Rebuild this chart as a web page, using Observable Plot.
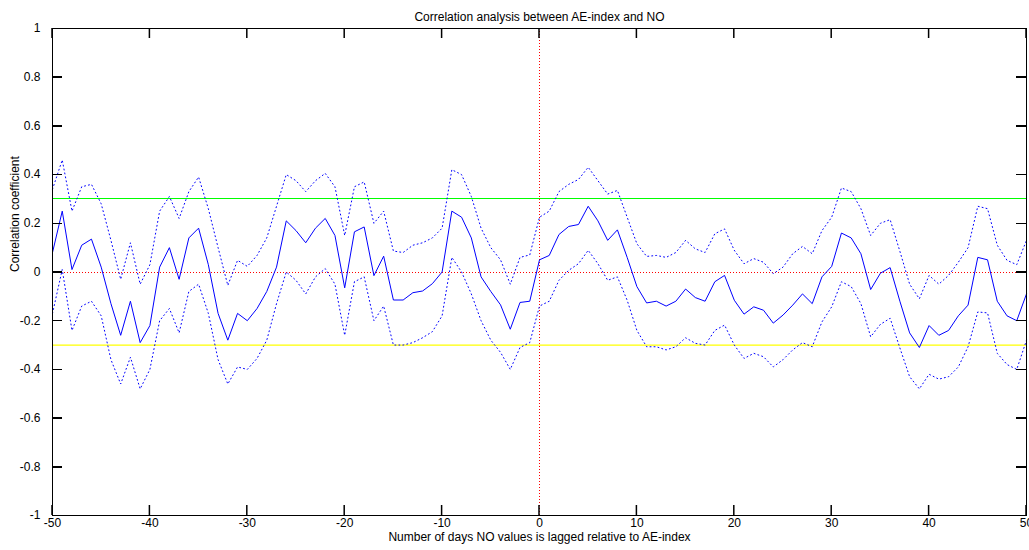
<!DOCTYPE html>
<html>
<head>
<meta charset="utf-8">
<script src="https://cdn.jsdelivr.net/npm/d3@7"></script>
<script src="https://cdn.jsdelivr.net/npm/@observablehq/plot@0.6"></script>
<style>
  html, body { margin: 0; padding: 0; background: #fff; }
</style>
</head>
<body>
<div id="chart"></div>
<script>
const title = "Correlation analysis between AE-index and NO";
const xLabel = "Number of days NO values is lagged relative to AE-index";
const yLabel = "Correlation coefficient";

const lags = d3.range(-50, 51);
const xTicks = [-50, -40, -30, -20, -10, 0, 10, 20, 30, 40, 50];
const yTicks = [-1, -0.8, -0.6, -0.4, -0.2, 0, 0.2, 0.4, 0.6, 0.8, 1];
const xDomain = [-50, 50];
const yDomain = [-1, 1];

const upperLimit = 0.3;
const lowerLimit = -0.3;

const corr = [
  0.08, 0.25, 0.01, 0.11, 0.135, 0.02, -0.13, -0.26, -0.12, -0.29,
  -0.22, 0.02, 0.10, -0.03, 0.14, 0.18, 0.03, -0.17, -0.28, -0.17,
  -0.20, -0.15, -0.08, 0.02, 0.21, 0.17, 0.12, 0.18, 0.22, 0.15,
  -0.065, 0.165, 0.185, -0.015, 0.065, -0.115, -0.115, -0.085, -0.078, -0.048,
  0.0, 0.25, 0.225, 0.14, -0.02, -0.08, -0.135, -0.235, -0.125, -0.12,
  0.05, 0.068, 0.154, 0.187, 0.195, 0.27, 0.21, 0.13, 0.173, 0.06,
  -0.06, -0.127, -0.12, -0.14, -0.12, -0.07, -0.105, -0.12, -0.04, -0.014,
  -0.116, -0.173, -0.143, -0.157, -0.21, -0.177, -0.136, -0.09, -0.13, -0.02,
  0.023, 0.16, 0.14, 0.075, -0.072, -0.005, 0.018, -0.12, -0.25, -0.31,
  -0.22, -0.26, -0.24, -0.18, -0.136, 0.06, 0.05, -0.12, -0.18, -0.2,
  -0.09
];

const upper = [
  0.34, 0.46, 0.25, 0.35, 0.36, 0.28, 0.13, -0.03, 0.12, -0.05,
  0.03, 0.25, 0.31, 0.22, 0.33, 0.39, 0.26, 0.10, -0.055, 0.048,
  0.023, 0.068, 0.14, 0.27, 0.40, 0.375, 0.33, 0.375, 0.405, 0.35,
  0.15, 0.35, 0.37, 0.20, 0.25, 0.086, 0.08, 0.11, 0.12, 0.14,
  0.18, 0.42, 0.40, 0.31, 0.18, 0.10, 0.05, -0.05, 0.06, 0.07,
  0.225, 0.25, 0.33, 0.36, 0.38, 0.43, 0.375, 0.32, 0.335, 0.225,
  0.116, 0.064, 0.068, 0.06, 0.08, 0.13, 0.095, 0.08, 0.157, 0.177,
  0.089, 0.034, 0.055, 0.04, -0.007, 0.02, 0.075, 0.105, 0.075, 0.17,
  0.225, 0.345, 0.33, 0.26, 0.15, 0.2, 0.215, 0.085, -0.05, -0.11,
  -0.014, -0.05, -0.014, 0.04, 0.10, 0.27, 0.26, 0.11, 0.048, 0.03,
  0.13
];

const lower = [
  -0.17, 0.01, -0.24, -0.14, -0.12, -0.18, -0.36, -0.46, -0.35, -0.48,
  -0.40, -0.20, -0.15, -0.25, -0.08, -0.05, -0.17, -0.36, -0.46, -0.39,
  -0.40, -0.355, -0.28, -0.13, 0.0, -0.034, -0.09, -0.02, 0.014, -0.05,
  -0.26, -0.04, -0.02, -0.20, -0.14, -0.30, -0.30, -0.29, -0.27, -0.245,
  -0.18, 0.06, 0.0, -0.09, -0.20, -0.28, -0.33, -0.40, -0.31, -0.29,
  -0.14, -0.12, -0.034, 0.007, 0.034, 0.089, 0.034, -0.034, -0.02, -0.116,
  -0.24, -0.307, -0.307, -0.32, -0.307, -0.27, -0.293, -0.30, -0.24, -0.218,
  -0.30, -0.355, -0.334, -0.348, -0.39, -0.36, -0.32, -0.29, -0.307, -0.205,
  -0.143, -0.04, -0.06, -0.13, -0.266, -0.215, -0.19, -0.312, -0.43, -0.48,
  -0.42, -0.44, -0.43, -0.39, -0.307, -0.164, -0.168, -0.334, -0.38, -0.40,
  -0.28
];

const fmt = d => String(+d.toFixed(1));
const font = "'Liberation Sans', Arial, sans-serif";

const W = 1029, H = 550;
const mL = 52, mR = 3, mT = 28, mB = 35;
const plotW = W - mL - mR, plotH = H - mT - mB;
const tickLen = 10;
const tickW = 1.5;
const tx = (xDomain[1] - xDomain[0]) * tickLen / plotW;
const ty = (yDomain[1] - yDomain[0]) * tickLen / plotH;
const halfW = (xDomain[1] - xDomain[0]) * (tickW / 2) / plotW;

const tickStyle = { stroke: "#000", strokeWidth: 1.5, strokeOpacity: 1, shapeRendering: "crispEdges" };

const chart = Plot.plot({
  width: W,
  height: H,
  marginLeft: mL,
  marginRight: mR,
  marginTop: mT,
  marginBottom: mB,
  style: { fontFamily: font, fontSize: "12px", color: "black", background: "white" },
  x: { domain: xDomain },
  y: { domain: yDomain },
  marks: [
    Plot.ruleY([upperLimit], { stroke: "#00ff00", shapeRendering: "crispEdges" }),
    Plot.ruleY([lowerLimit], { stroke: "#ffff00", strokeWidth: 1.2 }),
    Plot.ruleY([0], { stroke: "red", strokeDasharray: "1,2", shapeRendering: "crispEdges" }),
    Plot.ruleX([0], { stroke: "red", strokeDasharray: "1,2", shapeRendering: "crispEdges" }),
    Plot.line(upper, { x: (d, i) => lags[i], y: d => d, stroke: "blue", strokeWidth: 1, strokeDasharray: "1,3" }),
    Plot.line(lower, { x: (d, i) => lags[i], y: d => d, stroke: "blue", strokeWidth: 1, strokeDasharray: "1,3" }),
    Plot.line(corr, { x: (d, i) => lags[i], y: d => d, stroke: "blue", strokeWidth: 1 }),
    Plot.rect(xTicks, { x1: d => d - halfW, x2: d => d + halfW, y1: () => yDomain[0], y2: () => yDomain[0] + ty, fill: "#000" }),
    Plot.rect(xTicks, { x1: d => d - halfW, x2: d => d + halfW, y1: () => yDomain[1] - ty, y2: () => yDomain[1], fill: "#000" }),
    Plot.ruleY(yTicks, { y: d => d, x1: xDomain[0], x2: xDomain[0] + tx, ...tickStyle }),
    Plot.ruleY(yTicks, { y: d => d, x1: xDomain[1] - tx, x2: xDomain[1], ...tickStyle }),
    Plot.frame({ stroke: "black", shapeRendering: "crispEdges" }),
    Plot.axisX({ anchor: "bottom", ticks: xTicks, tickSize: 0, tickPadding: 3, tickFormat: fmt, label: null }),
    Plot.axisY({ anchor: "left", ticks: yTicks, tickSize: 0, tickPadding: 12, tickFormat: fmt, label: null }),
    Plot.text([title], { text: d => d, frameAnchor: "top", dy: -16, fontSize: 12 }),
    Plot.text([xLabel], { text: d => d, frameAnchor: "bottom", dy: 25, fontSize: 12 }),
    Plot.text([yLabel], { text: d => d, frameAnchor: "left", dx: -37, rotate: -90, fontSize: 12 })
  ]
});
document.getElementById("chart").appendChild(chart);
</script>
</body>
</html>
